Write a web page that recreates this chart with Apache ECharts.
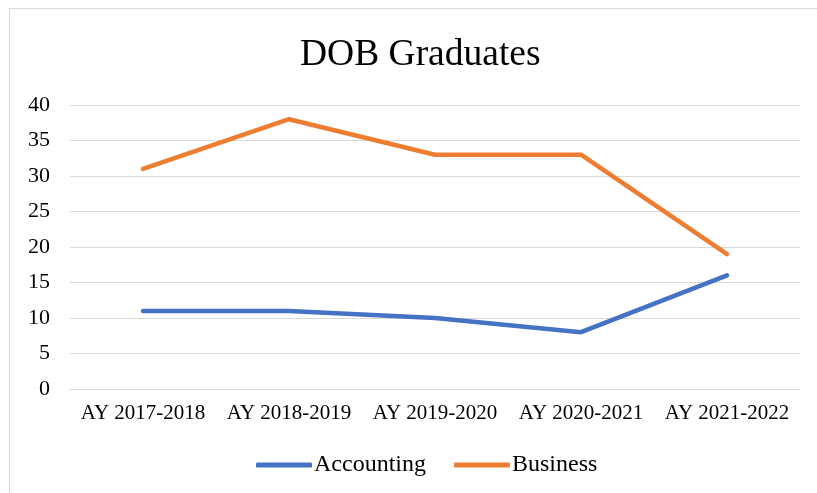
<!DOCTYPE html>
<html>
<head>
<meta charset="utf-8">
<script src="https://cdn.jsdelivr.net/npm/echarts@6/dist/echarts.min.js"></script>
<style>
  html, body { margin: 0; padding: 0; background: #fff; }
  #frame {
    position: absolute;
    left: 9px; top: 8px;
    width: 820px; height: 490px;
    border: 1px solid #d9d9d9;
    box-sizing: border-box;
  }
  #chart { position: absolute; left: 0; top: 0; width: 817px; height: 493px; }
</style>
</head>
<body>
<div id="frame"></div>
<div id="chart"></div>
<script>
const years = ["AY 2017-2018", "AY 2018-2019", "AY 2019-2020", "AY 2020-2021", "AY 2021-2022"];
const accounting = [11, 11, 10, 8, 16];
const business = [31, 38, 33, 33, 19];

const font = "'Liberation Serif', 'Times New Roman', serif";

const chart = echarts.init(document.getElementById("chart"), null, { renderer: "canvas" });
chart.setOption({
  backgroundColor: "transparent",
  animation: false,
  color: ["#4472C4", "#ED7D31"],
  title: {
    text: "DOB Graduates",
    left: 295,
    top: 31,
    textStyle: { fontFamily: font, fontSize: 37.5, fontWeight: "normal", color: "#000" },
  },
  grid: { left: 70, right: 17, top: 105, bottom: 104 },
  legend: {
    bottom: 11,
    left: 251,
    itemWidth: 56,
    itemHeight: 5,
    itemGap: 28,
    icon: "roundRect",
    textStyle: { fontFamily: font, fontSize: 24, color: "#000", padding: [0, 0, 0, -3] },
  },
  xAxis: {
    type: "category",
    data: years,
    boundaryGap: true,
    axisLine: { lineStyle: { color: "#d9d9d9", width: 1 } },
    axisTick: { show: false },
    axisLabel: { fontFamily: font, fontSize: 21, color: "#000", margin: 14, interval: 0 },
  },
  yAxis: {
    type: "value",
    min: 0,
    max: 40,
    interval: 5,
    axisLine: { show: false },
    axisTick: { show: false },
    axisLabel: { fontFamily: font, fontSize: 22, color: "#000", margin: 20 },
    splitLine: { lineStyle: { color: "#d9d9d9", width: 1 } },
  },
  series: [
    {
      name: "Accounting",
      type: "line",
      data: accounting,
      symbol: "none",
      lineStyle: { width: 4.5, cap: "round", join: "round" },
    },
    {
      name: "Business",
      type: "line",
      data: business,
      symbol: "none",
      lineStyle: { width: 4.5, cap: "round", join: "round" },
    },
  ],
});
</script>
</body>
</html>
